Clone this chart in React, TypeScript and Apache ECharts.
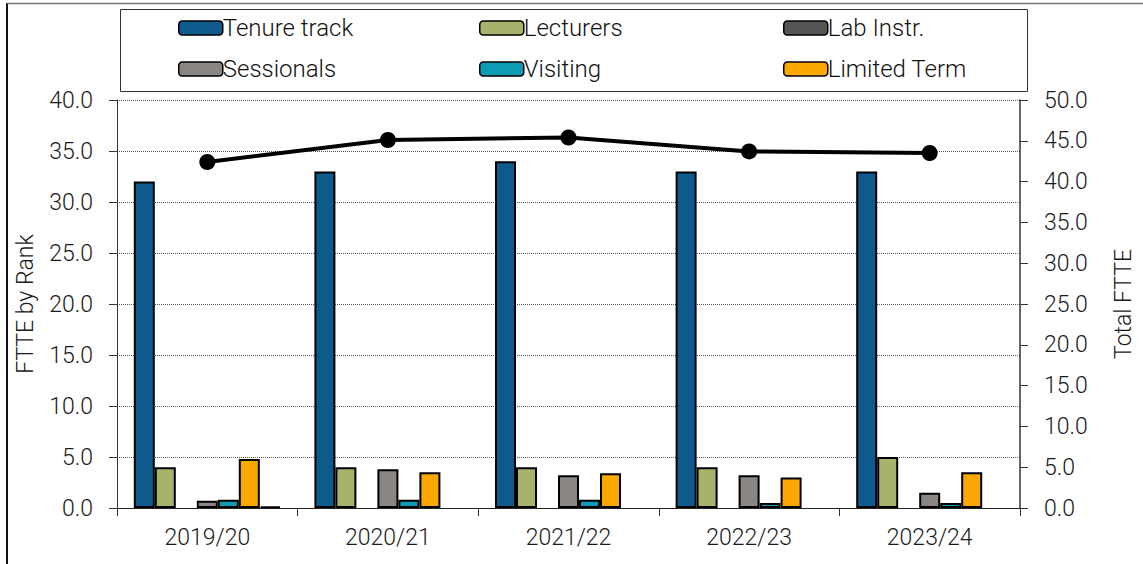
import React, { useEffect, useRef } from "react";
import * as echarts from "echarts";

const categories = ["2019/20", "2020/21", "2021/22", "2022/23", "2023/24"];
const tenureTrack = [32.0, 33.0, 34.0, 33.0, 33.0];
const lecturers = [4.0, 4.0, 4.0, 4.0, 5.0];
const labInstr = [0, 0, 0, 0, 0];
const sessionals = [0.7, 3.8, 3.2, 3.2, 1.5];
const visiting = [0.8, 0.8, 0.8, 0.5, 0.5];
const limitedTerm = [4.8, 3.5, 3.4, 3.0, 3.5];
const other = [0.15, 0, 0, 0, 0];
const totalFTTE = [42.4, 45.1, 45.4, 43.7, 43.5];

const FONT = "Roboto, 'Liberation Sans', sans-serif";
const LEGEND_FONT = "Roboto, 'Liberation Sans', sans-serif";

export default function App() {
  const ref = useRef<HTMLDivElement>(null);
  useEffect(() => {
    if (!ref.current) return;
    const chart = echarts.init(ref.current, null, { renderer: "svg" });
    const bar = (name: string, data: number[], color: string) => ({
      name,
      type: "bar",
      data: data.map((v) => (v === 0 ? null : v)),
      barWidth: 21,
      barGap: "0%",
      itemStyle: { color, borderColor: "#000", borderWidth: 2 },
    });
    const legendItems = [
      { name: "Tenure track", left: 178, top: 16 },
      { name: "Lecturers", left: 479, top: 16 },
      { name: "Lab Instr.", left: 783, top: 16 },
      { name: "Sessionals", left: 178, top: 57 },
      { name: "Visiting", left: 479, top: 57 },
      { name: "Limited Term", left: 783, top: 57 },
    ];
    const axisText = { fontSize: 23, color: "#1a1a1a", fontFamily: FONT, fontWeight: 300 };
    chart.setOption({
      animation: false,
      textStyle: { fontFamily: FONT },
      legend: legendItems.map((l) => ({
        data: [l.name],
        left: l.left,
        top: l.top,
        padding: 0,
        itemWidth: 44,
        itemHeight: 14,
        itemGap: 0,
        selectedMode: false,
        textStyle: { fontFamily: LEGEND_FONT, fontSize: 24, fontWeight: 300, color: "#111", padding: [0, 0, 0, -5] },
        itemStyle: { borderColor: "#000", borderWidth: 1.5 },
      })),
      graphic: [
        { type: "rect", shape: { x: 120.5, y: 9.5, width: 907, height: 82 }, style: { fill: "none", stroke: "#333", lineWidth: 1 }, silent: true },
        { type: "line", shape: { x1: 7, y1: 3, x2: 7, y2: 564 }, style: { stroke: "#111", lineWidth: 2 }, silent: true },
        { type: "line", shape: { x1: 7, y1: 3.5, x2: 1143, y2: 3.5 }, style: { stroke: "#777", lineWidth: 1.5 }, silent: true },
      ],
      grid: { left: 117, right: 119, top: 100, bottom: 56 },
      xAxis: {
        type: "category",
        data: categories,
        axisLine: { lineStyle: { color: "#222", width: 1 } },
        axisTick: { show: true, length: 8, lineStyle: { color: "#333" } },
        axisLabel: { ...axisText, margin: 18 },
      },
      yAxis: [
        {
          type: "value",
          min: 0,
          max: 40,
          interval: 5,
          name: "FTTE by Rank",
          nameLocation: "middle",
          nameGap: 80,
          nameTextStyle: axisText,
          axisLine: { show: true, lineStyle: { color: "#333", width: 1 } },
          axisTick: { show: true, length: 8, lineStyle: { color: "#333" } },
          axisLabel: { ...axisText, margin: 24, formatter: (v: number) => v.toFixed(1) },
          splitLine: { show: true, lineStyle: { color: "#555", type: [1, 1], width: 1 } },
        },
        {
          type: "value",
          min: 0,
          max: 50,
          interval: 5,
          name: "Total FTTE",
          nameLocation: "middle",
          nameGap: 92,
          nameRotate: 90,
          nameTextStyle: axisText,
          axisLine: { show: true, lineStyle: { color: "#333", width: 1.5 } },
          axisTick: { show: true, length: 8, lineStyle: { color: "#333" } },
          axisLabel: { ...axisText, margin: 24, formatter: (v: number) => v.toFixed(1) },
          splitLine: { show: false },
        },
      ],
      series: [
        bar("Tenure track", tenureTrack, "#0F5A8C"),
        bar("Lecturers", lecturers, "#A7B36B"),
        bar("Lab Instr.", labInstr, "#555555"),
        bar("Sessionals", sessionals, "#8A8684"),
        bar("Visiting", visiting, "#0E9CB5"),
        bar("Limited Term", limitedTerm, "#FBA900"),
        bar("Other", other, "#333333"),
        {
          name: "Total FTTE",
          type: "line",
          yAxisIndex: 1,
          data: totalFTTE,
          symbol: "circle",
          symbolSize: 16,
          lineStyle: { color: "#000", width: 4 },
          itemStyle: { color: "#000" },
          z: 10,
        },
      ],
    });
    return () => chart.dispose();
  }, []);
  return (
    <div
      ref={ref}
      style={{ position: "fixed", left: 0, top: 0, width: 1143, height: 564, background: "#fff" }}
    />
  );
}
